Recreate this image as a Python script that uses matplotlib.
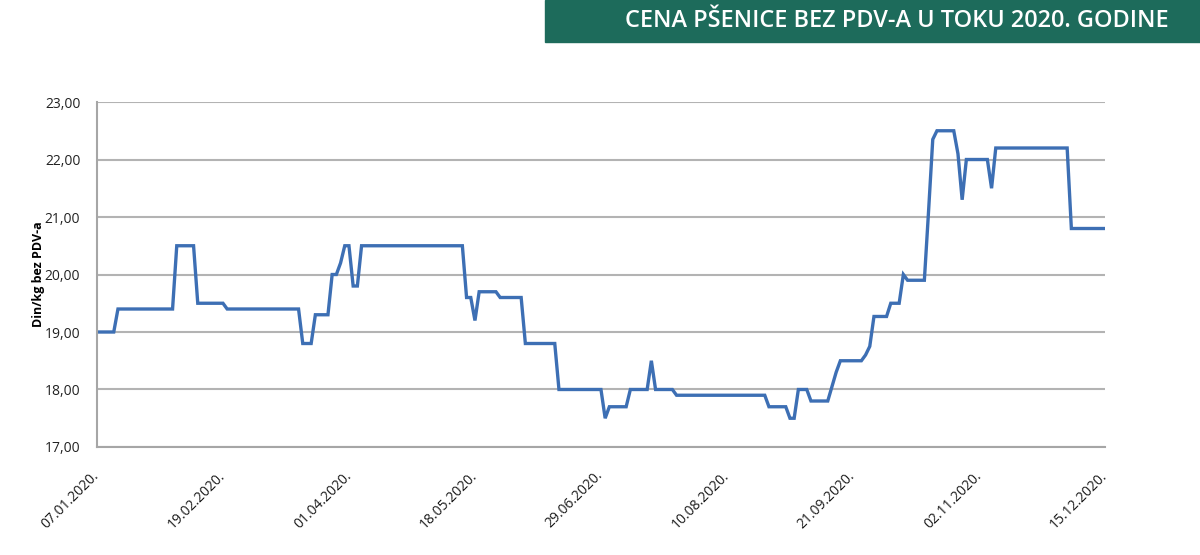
import numpy as np
import matplotlib
matplotlib.use("Agg")
import matplotlib.pyplot as plt
from matplotlib.transforms import ScaledTranslation

# Cena pšenice (din/kg bez PDV-a), po radnim danima
nivoi = [19.0, 19.4, 20.5, 19.5, 19.4, 18.8, 19.3, 20.0, 20.2, 20.5, 19.8, 20.5,
         19.6, 19.2, 19.7, 19.6, 18.8, 18.0, 17.5, 17.7, 18.0, 18.5, 18.0, 17.9,
         17.7, 17.5, 18.0, 17.8, 18.05, 18.3, 18.5, 18.6, 18.75, 19.27, 19.5, 20.0,
         19.9, 21.1, 22.35, 22.5, 22.1, 21.3, 22.0, 21.5, 22.2, 20.8]
trajanje = [5, 14, 5, 7, 18, 3, 4, 2, 1, 2, 2, 25,
            2, 1, 5, 6, 8, 11, 1, 5, 5, 1, 5, 22,
            5, 2, 3, 5, 1, 1, 6, 1, 1, 4, 3, 1,
            5, 1, 1, 5, 1, 1, 6, 1, 18, 9]
datumi = ["07.01.2020.", "19.02.2020.", "01.04.2020.", "18.05.2020.", "29.06.2020.",
          "10.08.2020.", "21.09.2020.", "02.11.2020.", "15.12.2020."]
y_oznake = ["17,00", "18,00", "19,00", "20,00", "21,00", "22,00", "23,00"]

cena = np.repeat(nivoi, trajanje)
x = np.arange(len(cena))

fig = plt.figure(figsize=(12, 5.55), dpi=100)
ax = fig.add_axes([0.0808, 0.1946, 0.84, 0.6216])

ax.plot(x, cena, color="#3d6fb4", linewidth=2.4, solid_joinstyle="miter")

ax.set_xlim(0, len(cena) - 1)
ax.set_ylim(17, 23)
ax.set_yticks(np.arange(17, 24, 1))
ax.set_yticklabels(y_oznake, fontsize=10, family="Open Sans", color="#222222")
ax.set_xticks(np.arange(0, len(cena), 30))
ax.set_xticklabels(datumi, rotation=45, ha="right", va="center",
                   rotation_mode="anchor", fontsize=10, family="Open Sans",
                   color="#1a1a1a")
pomak = ScaledTranslation(7 / 100, 0, fig.dpi_scale_trans)
for lab in ax.get_xticklabels():
    lab.set_transform(lab.get_transform() + pomak)
ax.tick_params(axis="both", length=0)
ax.tick_params(axis="x", pad=19)
ax.tick_params(axis="y", pad=12)
ax.grid(axis="y", color="#b3b3b3", linewidth=1.5)
ax.set_axisbelow(True)
for s in ["top", "right"]:
    ax.spines[s].set_visible(False)
for s in ["left", "bottom"]:
    ax.spines[s].set_color("#a6a6a6")
    ax.spines[s].set_linewidth(1.5)

ax.set_ylabel("Din/kg bez PDV-a", fontsize=9, fontweight="bold",
              family="Open Sans", labelpad=0)

# zeleni naslov u gornjem desnom uglu
fig.patches.append(plt.Rectangle((545 / 1200, 1 - 42 / 555), 655 / 1200, 42 / 555,
                                 transform=fig.transFigure, color="#1d6b5b"))
naslov = fig.text(897 / 1200, 1 - 21 / 555, "CENA PŠENICE BEZ PDV-A U TOKU 2020. GODINE",
                  ha="center", va="center", color="white", fontsize=14,
                  family="Open Sans", fontweight="semibold")
# prilagodi veličinu da naslov zauzme oko 545 px kao u originalu
r = fig.canvas.get_renderer()
w = naslov.get_window_extent(r).width
naslov.set_fontsize(14 * 545 / w)

fig.savefig("out.png", dpi=100)
